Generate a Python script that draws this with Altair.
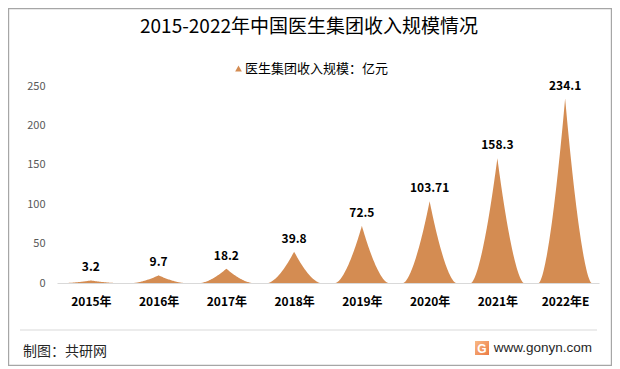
import json
import altair as alt
import numpy as np
import pandas as pd

# ---- data ----
categories = ["2015年", "2016年", "2017年", "2018年", "2019年", "2020年", "2021年", "2022年E"]
values = [3.2, 9.7, 18.2, 39.8, 72.5, 103.71, 158.3, 234.1]
value_labels = ["3.2", "9.7", "18.2", "39.8", "72.5", "103.71", "158.3", "234.1"]
y_ticks = [0, 50, 100, 150, 200, 250]
series_name = "医生集团收入规模：亿元"
title_text = "2015-2022年中国医生集团收入规模情况"
source_text = "制图：共研网"
site_text = "www.gonyn.com"

FONT = "Noto Sans CJK SC"
ORANGE = "#D48C52"
HALF = 0.39      # half width of a spike, in category units
POWER = 1.6      # concavity of the spike sides

# spike outline for each category, scaled from its value
ts = np.linspace(-1, 1, 81)
rows = []
for i, (c, v) in enumerate(zip(categories, values)):
    for t in ts:
        rows.append({"idx": i + HALF * t, "val": v * (1 - abs(t)) ** POWER,
                     "cat": c, "series": series_name})
shape_df = pd.DataFrame(rows)
label_df = pd.DataFrame({"idx": list(range(len(categories))), "val": values, "label": value_labels})
one = pd.DataFrame({"k": [0]})

W, H = 542, 197
x_scale = alt.Scale(domain=[-0.5, len(categories) - 0.5], nice=False, zero=False)
y_scale = alt.Scale(domain=[0, 250], nice=False)
label_expr = json.dumps(categories, ensure_ascii=False) + "[round(datum.value)]"

x_axis = alt.Axis(values=list(range(len(categories))), labelExpr=label_expr, title=None,
                  grid=False, ticks=False, tickSize=0, domainColor="#d9d9d9",
                  domainWidth=1, labelFont=FONT, labelFontSize=12, labelFontWeight="bold",
                  labelColor="#000000", labelPadding=13, labelOverlap=False,
                  labelFlush=False)
y_axis = alt.Axis(values=y_ticks, title=None, grid=False, ticks=False, tickSize=0,
                  domain=False, labelFont=FONT, labelFontSize=11, labelOverlap=False,
                  labelFlush=False, labelBound=False, labelColor="#595959",
                  labelPadding=12)

spikes = alt.Chart(shape_df).mark_area(opacity=1).encode(
    x=alt.X("idx:Q", scale=x_scale, axis=x_axis),
    y=alt.Y("val:Q", scale=y_scale, axis=y_axis),
    detail="cat:N",
    color=alt.Color("series:N", scale=alt.Scale(range=[ORANGE]),
                    legend=alt.Legend(title=None, orient="none", legendX=175, legendY=-24,
                                      symbolType="triangle-up", symbolSize=45, padding=0,
                                      labelFont=FONT, labelFontSize=13, labelColor="#000000",
                                      labelOffset=0, labelLimit=300)),
)

labels = alt.Chart(label_df).mark_text(font=FONT, fontSize=12, fontWeight="bold",
                                       color="#000000", baseline="middle", dy=-13).encode(
    x=alt.X("idx:Q", scale=x_scale, axis=x_axis),
    y=alt.Y("val:Q", scale=y_scale, axis=y_axis),
    text="label:N")

border = alt.Chart(one).mark_rect(fill="white", fillOpacity=0, stroke="#a6a6a6",
                                  strokeWidth=1.2).encode(
    x=alt.value(-48.4), x2=alt.value(554.4), y=alt.value(-77.4), y2=alt.value(279.4))

footer_line = alt.Chart(one).mark_rule(color="#d9d9d9", strokeWidth=1).encode(
    x=alt.value(-37), x2=alt.value(540), y=alt.value(244))

source = alt.Chart(one).mark_text(font=FONT, fontSize=14, align="left", baseline="middle",
                                  color="#262626").encode(
    x=alt.value(-34), y=alt.value(266), text=alt.value(source_text))

site = alt.Chart(one).mark_text(font="Liberation Sans", fontSize=13.5, align="right",
                                baseline="middle", color="#262626").encode(
    x=alt.value(535), y=alt.value(262), text=alt.value(site_text))

logo = alt.Chart(one).mark_rect(
    color=alt.Gradient(gradient="linear", x1=0, y1=0, x2=1, y2=1,
                       stops=[alt.GradientStop(color="#f8b985", offset=0),
                              alt.GradientStop(color="#ec7b45", offset=1)])).encode(
    x=alt.value(418), x2=alt.value(432), y=alt.value(255), y2=alt.value(269))

logo_g = alt.Chart(one).mark_text(font="Liberation Sans", fontSize=12, fontWeight="bold",
                                  color="white", align="center", baseline="middle").encode(
    x=alt.value(425), y=alt.value(262.5), text=alt.value("G"))

chart = alt.layer(border, footer_line, spikes, labels, source, site, logo, logo_g).properties(
    width=W, height=H, autosize="none",
    padding={"left": 49, "top": 78, "right": 13, "bottom": 83},
    background="white",
    title=alt.TitleParams(title_text, font=FONT, fontSize=19, fontWeight="normal",
                          color="#000000", anchor="middle", dx=-19, dy=29, offset=0),
).configure_view(stroke=None)

chart.save("out.html", embed_options={"renderer": "svg", "actions": False})
